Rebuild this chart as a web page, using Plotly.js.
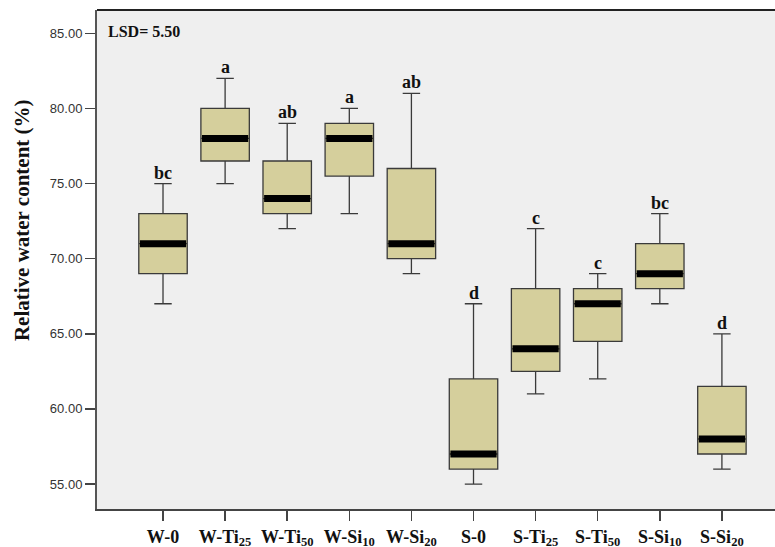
<!DOCTYPE html>
<html>
<head>
<meta charset="utf-8">
<script src="https://cdn.plot.ly/plotly-3.0.1.min.js"></script>
<style>html,body{margin:0;padding:0;background:#fff;}#chart{width:775px;height:547px;}</style>
</head>
<body>
<div id="chart"></div>
<script>
const categories = ["W-0","W-Ti<sub>25</sub>","W-Ti<sub>50</sub>","W-Si<sub>10</sub>","W-Si<sub>20</sub>","S-0","S-Ti<sub>25</sub>","S-Ti<sub>50</sub>","S-Si<sub>10</sub>","S-Si<sub>20</sub>"];
const lowerWhisker = [67, 75, 72, 73, 69, 55, 61, 62, 67, 56];
const q1Values     = [69, 76.5, 73, 75.5, 70, 56, 62.5, 64.5, 68, 57];
const medianValues = [71, 78, 74, 78, 71, 57, 64, 67, 69, 58];
const q3Values     = [73, 80, 76.5, 79, 76, 62, 68, 68, 71, 61.5];
const upperWhisker = [75, 82, 79, 80, 81, 67, 72, 69, 73, 65];
const letters      = ["bc","a","ab","a","ab","d","c","c","bc","d"];
const yTickVals    = [55, 60, 65, 70, 75, 80, 85];

const serif = "Liberation Serif, Times New Roman, serif";

const boxTrace = {
  type: "box",
  x: categories,
  q1: q1Values,
  median: medianValues,
  q3: q3Values,
  lowerfence: lowerWhisker,
  upperfence: upperWhisker,
  boxpoints: false,
  fillcolor: "#d5cf9c",
  line: {color: "#3a3a3a", width: 1.3},
  whiskerwidth: 0.36,
  width: 0.78,
  hoverinfo: "skip",
  showlegend: false
};

const medianTrace = {
  type: "scatter",
  mode: "markers",
  x: categories,
  y: medianValues,
  marker: {symbol: "line-ew", size: 33, color: "#000", line: {color: "#000", width: 7}},
  hoverinfo: "skip",
  showlegend: false
};

const annotations = categories.map((c, i) => ({
  x: c, y: upperWhisker[i], xref: "x", yref: "y",
  text: letters[i], showarrow: false, yanchor: "bottom", yshift: -1,
  font: {family: serif, size: 18, color: "#111", weight: "bold"}
}));
annotations.push({
  xref: "paper", yref: "paper", x: 0, y: 1, xanchor: "left", yanchor: "top",
  xshift: 9, yshift: -11, text: "LSD= 5.50", showarrow: false,
  font: {family: serif, size: 16, color: "#111", weight: "bold"}
});
annotations.push({
  xref: "paper", yref: "paper", x: 0, y: 0.579, xanchor: "center", yanchor: "middle",
  xshift: -75, textangle: -90, text: "Relative water content (%)", showarrow: false,
  font: {family: serif, size: 21, color: "#111", weight: "bold"}
});

const layout = {
  width: 775, height: 547,
  margin: {l: 97, r: 0, t: 10, b: 38},
  paper_bgcolor: "#ffffff",
  plot_bgcolor: "#efefef",
  showlegend: false,
  xaxis: {
    type: "category",
    range: [-1.063, 9.855],
    showgrid: false, zeroline: false,
    showline: true, linecolor: "#444", linewidth: 2,
    ticks: "outside", ticklen: 10, tickcolor: "#444", tickwidth: 1.5,
    tickfont: {family: serif, size: 18, color: "#111", weight: "bold"}
  },
  yaxis: {
    range: [53.34, 86.55],
    tickvals: yTickVals,
    tickformat: ".2f",
    showgrid: false, zeroline: false,
    showline: true, linecolor: "#555", linewidth: 2,
    ticks: "outside", ticklen: 10, tickcolor: "#444", tickwidth: 1.5,
    tickfont: {family: "Liberation Sans, Arial, sans-serif", size: 13, color: "#333"}
  },
  shapes: [{type: "line", xref: "paper", yref: "paper", x0: 0, x1: 1, y0: 1, y1: 1,
            line: {color: "#222", width: 2}}],
  annotations: annotations
};

Plotly.newPlot("chart", [boxTrace, medianTrace], layout, {displayModeBar: false, staticPlot: true});
</script>
</body>
</html>
